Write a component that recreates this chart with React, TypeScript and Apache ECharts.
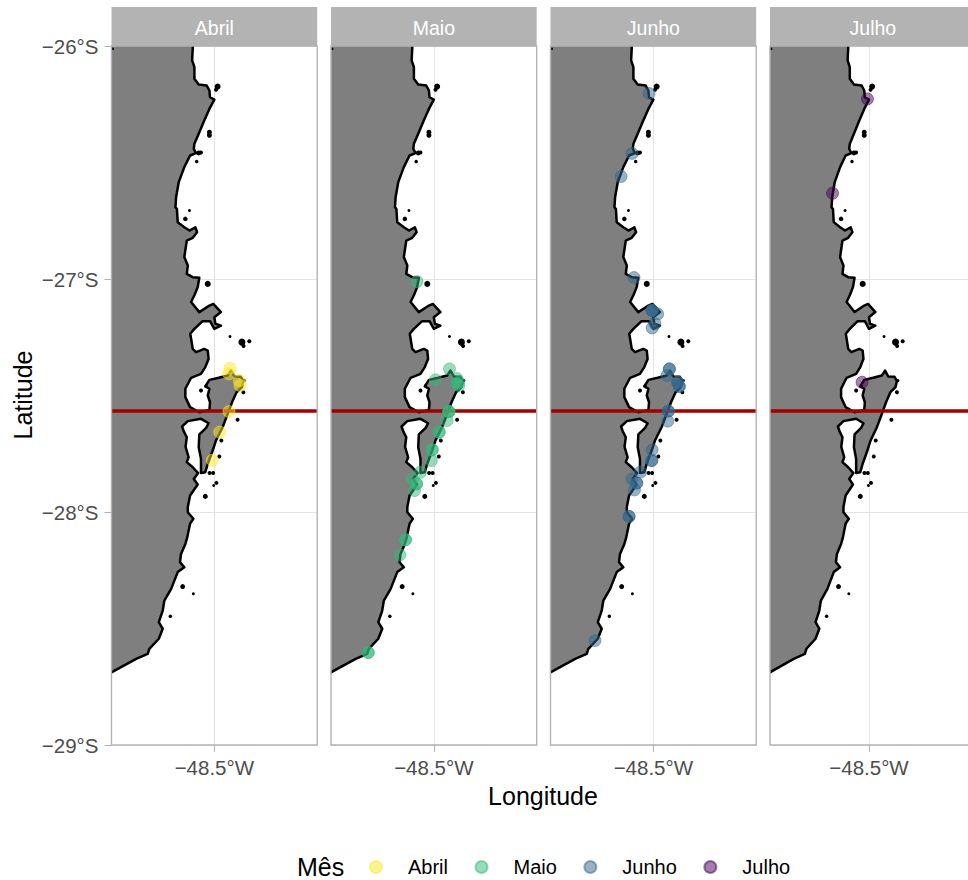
import React, { useEffect, useRef } from "react";
import * as echarts from "echarts";

const months = ["Abril", "Maio", "Junho", "Julho"];
const monthFill = ["rgba(253,231,37,0.5)", "rgba(53,183,121,0.5)", "rgba(49,104,142,0.5)", "rgba(68,1,84,0.5)"];

const lonTick = -48.5;
const referenceLatitude = -27.567;

const abrilPoints = [
  [-48.424, -27.383], [-48.43, -27.407], [-48.379, -27.436], [-48.375, -27.457],
  [-48.429, -27.569], [-48.474, -27.657], [-48.51, -27.778],
];

const maioPoints = [
  [-48.582, -27.011], [-48.424, -27.386], [-48.492, -27.433], [-48.387, -27.428],
  [-48.379, -27.443], [-48.379, -27.457], [-48.387, -27.45], [-48.427, -27.569],
  [-48.427, -27.569], [-48.427, -27.569], [-48.436, -27.607], [-48.474, -27.657],
  [-48.474, -27.657], [-48.508, -27.733], [-48.508, -27.733], [-48.512, -27.779],
  [-48.565, -27.829], [-48.605, -27.858], [-48.584, -27.879], [-48.584, -27.879],
  [-48.594, -27.908], [-48.638, -28.119], [-48.638, -28.119], [-48.665, -28.184],
  [-48.819, -28.603], [-48.819, -28.603],
];

const junhoPoints = [
  [-48.521, -26.204], [-48.604, -26.461], [-48.657, -26.56], [-48.594, -26.994],
  [-48.506, -27.135], [-48.506, -27.135], [-48.506, -27.135], [-48.479, -27.15],
  [-48.492, -27.192], [-48.506, -27.21], [-48.422, -27.386], [-48.422, -27.386],
  [-48.434, -27.414], [-48.382, -27.443], [-48.382, -27.443], [-48.374, -27.461],
  [-48.374, -27.461], [-48.427, -27.567], [-48.427, -27.567], [-48.43, -27.61],
  [-48.506, -27.733], [-48.508, -27.779], [-48.508, -27.779], [-48.563, -27.829],
  [-48.604, -27.858], [-48.581, -27.876], [-48.581, -27.876], [-48.592, -27.905],
  [-48.618, -28.019], [-48.618, -28.019], [-48.784, -28.552],
];

const julhoPoints = [
  [-48.508, -26.227], [-48.684, -26.632], [-48.535, -27.443],
];

const monthPoints = [abrilPoints, maioPoints, junhoPoints, julhoPoints];

const coast = [
  [-49.2, -25.9], [-48.602, -25.9], [-48.605, -26.008], [-48.608, -26.062], [-48.597, -26.091],
  [-48.597, -26.141], [-48.576, -26.165], [-48.537, -26.17], [-48.524, -26.191], [-48.521, -26.22],
  [-48.5, -26.23], [-48.524, -26.27], [-48.549, -26.32], [-48.576, -26.377], [-48.597, -26.42],
  [-48.6, -26.441], [-48.589, -26.46], [-48.618, -26.47], [-48.646, -26.52], [-48.673, -26.584],
  [-48.686, -26.649], [-48.689, -26.692], [-48.682, -26.7], [-48.678, -26.756], [-48.646, -26.778], [-48.621, -26.792],
  [-48.592, -26.778], [-48.584, -26.799], [-48.605, -26.823], [-48.634, -26.835], [-48.64, -26.87], [-48.646, -26.906],
  [-48.629, -26.942], [-48.634, -26.978], [-48.605, -26.992], [-48.573, -26.995], [-48.581, -27.035],
  [-48.597, -27.07], [-48.613, -27.099], [-48.573, -27.142], [-48.524, -27.114], [-48.505, -27.107],
  [-48.468, -27.142], [-48.5, -27.164], [-48.495, -27.192], [-48.468, -27.2], [-48.5, -27.214],
  [-48.521, -27.181], [-48.557, -27.181], [-48.597, -27.214], [-48.617, -27.235], [-48.605, -27.3],
  [-48.589, -27.314], [-48.549, -27.3], [-48.532, -27.307], [-48.528, -27.343], [-48.544, -27.378],
  [-48.565, -27.407], [-48.613, -27.424], [-48.641, -27.471], [-48.641, -27.507], [-48.618, -27.55],
  [-48.573, -27.572], [-48.524, -27.562], [-48.521, -27.529], [-48.532, -27.5], [-48.524, -27.471],
  [-48.544, -27.461], [-48.524, -27.433], [-48.479, -27.424], [-48.435, -27.414], [-48.419, -27.393],
  [-48.403, -27.418], [-48.371, -27.42], [-48.359, -27.438], [-48.366, -27.464], [-48.392, -27.486],
  [-48.414, -27.529], [-48.435, -27.579], [-48.46, -27.636], [-48.492, -27.693], [-48.508, -27.736],
  [-48.532, -27.793], [-48.544, -27.829], [-48.565, -27.833], [-48.565, -27.772], [-48.576, -27.722],
  [-48.573, -27.667], [-48.54, -27.639], [-48.528, -27.619], [-48.565, -27.6], [-48.629, -27.61],
  [-48.657, -27.633], [-48.648, -27.655], [-48.634, -27.679], [-48.64, -27.72], [-48.625, -27.765], [-48.634, -27.786], [-48.605, -27.808],
  [-48.579, -27.833], [-48.6, -27.858], [-48.581, -27.882], [-48.618, -27.929], [-48.629, -27.979],
  [-48.629, -28.001], [-48.602, -28.029], [-48.618, -28.05], [-48.625, -28.079], [-48.632, -28.11], [-48.641, -28.137], [-48.662, -28.18],
  [-48.667, -28.215], [-48.646, -28.237], [-48.678, -28.258], [-48.71, -28.33], [-48.743, -28.38],
  [-48.751, -28.423], [-48.77, -28.473], [-48.751, -28.501], [-48.77, -28.544], [-48.816, -28.587],
  [-48.824, -28.609], [-48.88, -28.63], [-48.998, -28.687], [-49.2, -28.784],
];

// lon, lat, drawn size of each islet
const islets = [
  [-48.484, -26.174, 6], [-48.492, -26.188, 4], [-48.524, -26.37, 5], [-48.524, -26.383, 5],
  [-48.576, -26.459, 5], [-48.565, -26.457, 4], [-48.586, -26.496, 3.5], [-48.621, -26.706, 3],
  [-48.641, -26.742, 4.5], [-48.532, -27.021, 6], [-48.994, -26.012, 2.5], [-48.424, -27.247, 3],
  [-48.366, -27.271, 7], [-48.358, -27.288, 4], [-48.33, -27.267, 4], [-48.565, -27.479, 4],
  [-48.54, -27.457, 3], [-48.359, -27.486, 4], [-48.354, -27.436, 3], [-48.387, -27.604, 4],
  [-48.466, -27.693, 4], [-48.476, -27.762, 4], [-48.523, -27.833, 4], [-48.506, -27.833, 4],
  [-48.49, -27.875, 4], [-48.503, -27.886, 3], [-48.544, -27.933, 5], [-48.654, -28.32, 5],
  [-48.602, -28.351, 3], [-48.714, -28.447, 3.5],
];

const panelLefts = [111.5, 331, 550.5, 770];
const panelWidth = 205.7;
const panelTop = 46;
const panelHeight = 699;
const stripTop = 7;
const FONT = "'Liberation Sans', Arial, sans-serif";
const STRIP = 19.5;
const TICK = 20.5;
const LEGEND = 20;
const TITLE = 25;

const land = (_p: any, api: any) => ({
  type: "polygon",
  shape: { points: coast.map((c) => api.coord(c)) },
  style: { fill: "#7F7F7F", stroke: "#000000", lineWidth: 2.5, lineJoin: "round" },
});

export default function App() {
  const ref = useRef<HTMLDivElement>(null);
  useEffect(() => {
    document.body.style.margin = "0";
    const chart = echarts.init(ref.current!, undefined, { renderer: "svg" });
    const series: any[] = [];
    months.forEach((m, i) => {
      series.push({
        type: "custom", xAxisIndex: i, yAxisIndex: i, clip: true, silent: true, z: 2,
        data: [[lonTick, referenceLatitude]], encode: { x: 0, y: 1 }, renderItem: land,
      });
      series.push({
        type: "scatter", xAxisIndex: i, yAxisIndex: i, clip: true, silent: true, z: 3,
        data: islets, symbolSize: (v: number[]) => v[2], itemStyle: { color: "#000", opacity: 1 },
      });
      series.push({
        type: "line", xAxisIndex: i, yAxisIndex: i, silent: true, z: 4, showSymbol: false,
        data: [[-49, referenceLatitude], [-48, referenceLatitude]],
        lineStyle: { color: "#A30000", width: 3.5 },
      });
      series.push({
        name: m, type: "scatter", xAxisIndex: i, yAxisIndex: i, z: 5, clip: true,
        data: monthPoints[i], symbolSize: 12,
        itemStyle: { color: monthFill[i], borderColor: monthFill[i], borderWidth: 1, opacity: 1 },
      });
    });
    const graphic: any[] = [];
    months.forEach((m, i) => {
      graphic.push({
        type: "rect", z: 20, shape: { x: panelLefts[i], y: stripTop, width: panelWidth, height: panelTop - stripTop },
        style: { fill: "#B3B3B3" },
      });
      graphic.push({
        type: "text", z: 21, x: panelLefts[i] + panelWidth / 2, y: (stripTop + panelTop) / 2 + 1,
        style: { text: m, fill: "#FFFFFF", font: `${STRIP}px ${FONT}`, textAlign: "center", textVerticalAlign: "middle" },
      });
      graphic.push({
        type: "rect", z: 20, shape: { x: panelLefts[i], y: panelTop, width: panelWidth, height: panelHeight },
        style: { fill: "none", stroke: "#B3B3B3", lineWidth: 1.4 },
      });
    });
    graphic.push({
      type: "text", x: 23, y: 395, rotation: Math.PI / 2,
      style: { text: "Latitude", fill: "#000", font: `${TITLE}px ${FONT}`, textAlign: "center", textVerticalAlign: "middle" },
    });
    graphic.push({
      type: "text", x: 543, y: 796,
      style: { text: "Longitude", fill: "#000", font: `${TITLE}px ${FONT}`, textAlign: "center", textVerticalAlign: "middle" },
    });
    graphic.push({
      type: "text", x: 297, y: 867,
      style: { text: "Mês", fill: "#000", font: `${TITLE}px ${FONT}`, textAlign: "left", textVerticalAlign: "middle" },
    });
    chart.setOption({
      animation: false,
      backgroundColor: "#FFFFFF",
      grid: panelLefts.map((left) => ({ left, top: panelTop, width: panelWidth, height: panelHeight, containLabel: false })),
      xAxis: panelLefts.map((_, i) => ({
        type: "value", gridIndex: i, min: -49, max: -48,
        axisLine: { show: false },
        axisTick: { show: true, length: 7, customValues: [lonTick], lineStyle: { color: "#B3B3B3", width: 1 } },
        axisLabel: {
          customValues: [lonTick], margin: 12, color: "#4D4D4D", fontSize: TICK, fontFamily: FONT,
          formatter: (v: number) => `−${Math.abs(v)}°W`,
        },
        splitLine: { show: true, lineStyle: { color: "#E3E3E3", width: 1 } },
      })),
      yAxis: panelLefts.map((_, i) => ({
        type: "value", gridIndex: i, min: -29, max: -26, interval: 1,
        axisLine: { show: false },
        axisTick: { show: i === 0, length: 7, lineStyle: { color: "#B3B3B3", width: 1 } },
        axisLabel: {
          show: i === 0, margin: 13, color: "#4D4D4D", fontSize: TICK, fontFamily: FONT,
          formatter: (v: number) => `−${Math.abs(v)}°S`,
        },
        splitLine: { show: true, lineStyle: { color: "#E3E3E3", width: 1 } },
      })),
      legend: {
        data: months, left: 364, top: 852, orient: "horizontal", icon: "circle",
        itemWidth: 12, itemHeight: 12, itemGap: 26.5,
        textStyle: { color: "#000", fontSize: LEGEND, fontFamily: FONT, padding: [0, 0, 0, 21] },
      },
      series,
      graphic,
    });
    return () => chart.dispose();
  }, []);
  return <div ref={ref} style={{ width: 968, height: 880 }} />;
}
